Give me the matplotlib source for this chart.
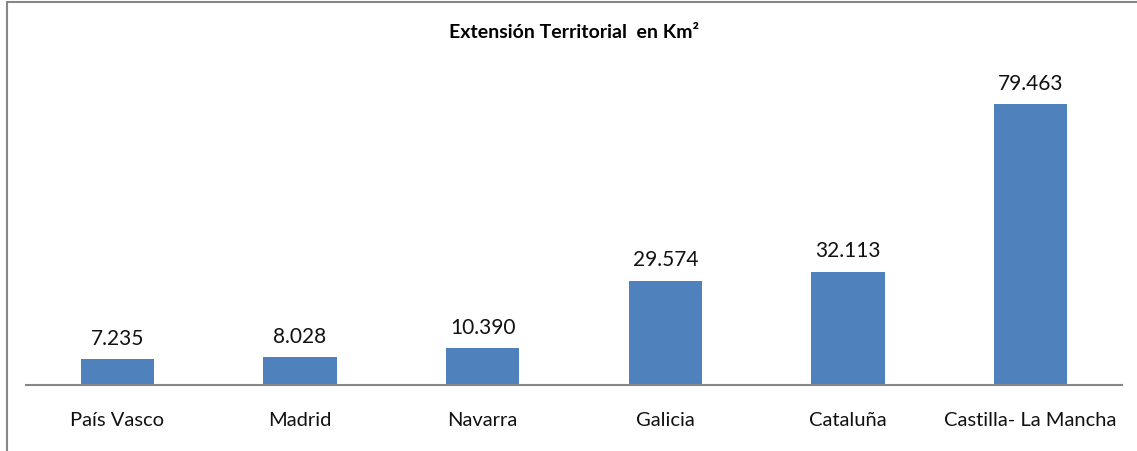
import matplotlib
matplotlib.use('Agg')
import matplotlib.pyplot as plt
from matplotlib.patches import Rectangle

regiones = ['País Vasco', 'Madrid', 'Navarra', 'Galicia', 'Cataluña', 'Castilla- La Mancha']
superficie = [7235, 8028, 10390, 29574, 32113, 79463]
etiquetas = ['7.235', '8.028', '10.390', '29.574', '32.113', '79.463']

plt.rcParams['font.family'] = ['Lato', 'DejaVu Sans']

fig = plt.figure(figsize=(11.37, 4.52), dpi=100)
# marco del grafico
fig.patches.append(Rectangle((7 / 1137, -0.1), 1.2, 1.1 - 3 / 452, transform=fig.transFigure,
                             fill=False, edgecolor='#878787', linewidth=1.5))

ax = fig.add_axes([26 / 1137, 1 - 386 / 452, 1096 / 1137, 318 / 452])
x = range(len(regiones))
ax.bar(x, superficie, width=0.4, color='#4F81BD')
for xi, v, t in zip(x, superficie, etiquetas):
    ax.annotate(t, (xi, v), xytext=(0, 8), textcoords='offset points',
                ha='center', va='bottom', fontsize=15, color='#111111')

ax.set_xlim(-0.5, len(regiones) - 0.5)
ax.set_ylim(0, 90000)
ax.set_xticks(list(x))
ax.set_xticklabels(regiones, fontsize=14.5, color='#111111')
ax.tick_params(axis='x', length=0, pad=19)
ax.set_yticks([])
for s in ['top', 'right', 'left']:
    ax.spines[s].set_visible(False)
ax.spines['bottom'].set_color('#868686')
ax.spines['bottom'].set_linewidth(1.5)

fig.text(574 / 1137, 1 - 33 / 452, 'Extensión Territorial  en Km²',
         ha='center', va='center', fontsize=14, fontweight='bold')

fig.savefig('out.png', dpi=100)
plt.close()
